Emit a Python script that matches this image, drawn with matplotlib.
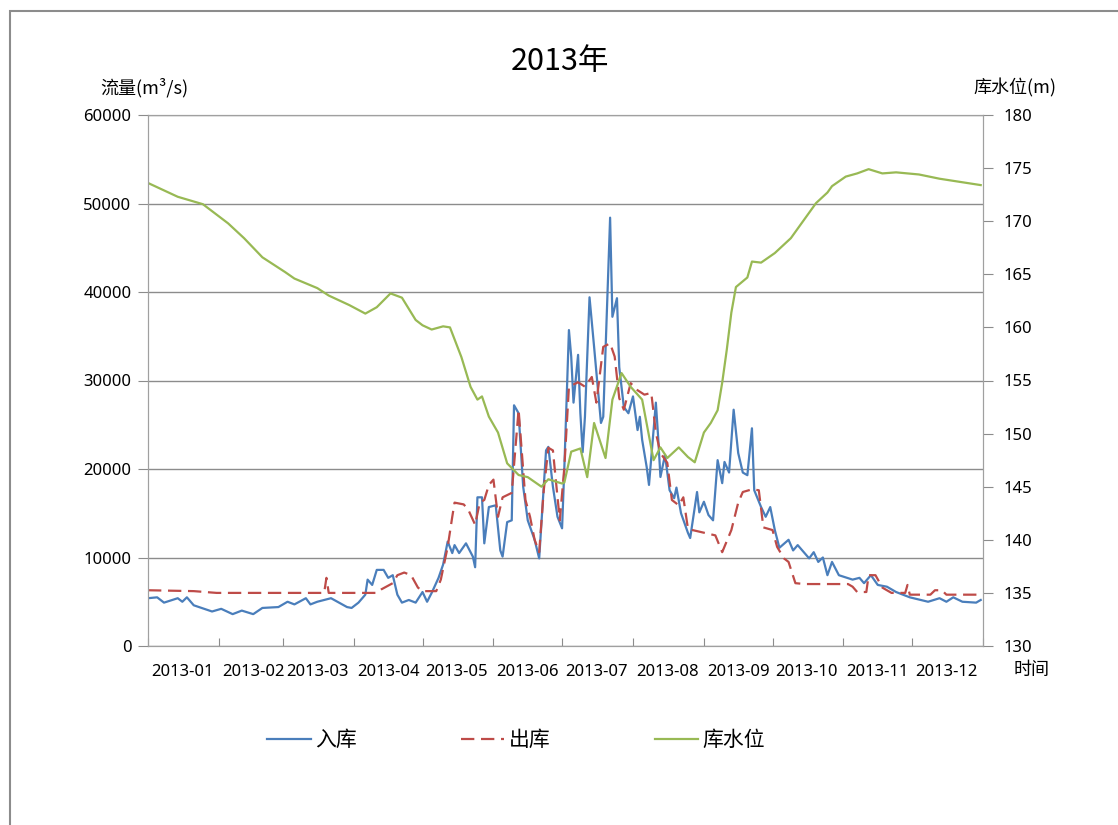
import pandas as pd
import matplotlib
matplotlib.use("Agg")
import matplotlib.pyplot as plt
import matplotlib.dates as mdates
from matplotlib.patches import Rectangle

plt.rcParams['font.family'] = ['Noto Sans CJK SC', 'DejaVu Sans']

# day of year (0 = Jan 1) and values
inflow_day = [0, 4, 7, 13, 15, 17, 20, 28, 32, 37, 41, 46, 50, 57, 61, 64, 69, 71, 74, 80,
              87, 89, 92, 95, 96, 98, 100, 103, 105, 107, 109, 111, 114, 117, 120, 122, 124,
              127, 129, 131, 133, 134, 136, 139, 142, 143, 144, 146, 147, 149, 152, 154, 155,
              157, 159, 160, 162, 164, 166, 169, 171, 174, 175, 177, 179, 181, 182, 184, 185,
              186, 188, 189, 190, 191, 193, 195, 198, 199, 202, 203, 205, 206, 208, 210, 212,
              214, 215, 216, 218, 219, 222, 223, 224, 226, 228, 230, 231, 233, 236, 237, 240,
              241, 243, 245, 247, 249, 251, 252, 254, 256, 258, 260, 262, 264, 265, 268, 270,
              272, 274, 276, 280, 282, 284, 289, 291, 293, 295, 297, 299, 302, 308, 311, 313,
              316, 319, 323, 327, 333, 341, 346, 349, 352, 356, 362, 364]
inflow = [5400, 5500, 4900, 5400, 5000, 5500, 4600, 3900, 4200, 3600, 4000, 3600, 4300, 4400,
          5000, 4700, 5400, 4700, 5000, 5400, 4400, 4300, 4900, 5800, 7500, 6900, 8600, 8600,
          7700, 8000, 5800, 4900, 5200, 4900, 6100, 5000, 6000, 7700, 9200, 11800, 10500, 11400,
          10500, 11600, 10100, 8900, 16800, 16800, 11600, 15700, 15900, 10800, 10100, 14000,
          14200, 27200, 26300, 18000, 14200, 12000, 9900, 22100, 22500, 18000, 14600, 13300,
          20200, 35700, 32700, 27500, 32900, 26300, 21900, 25900, 39400, 33800, 25200, 25900,
          48400, 37200, 39300, 31500, 27000, 26300, 28200, 24400, 25900, 23300, 20200, 18200,
          27500, 23600, 19100, 21600, 17600, 16700, 17900, 15000, 12800, 12200, 17400, 15100,
          16300, 14800, 14200, 21000, 18400, 20800, 19600, 26700, 21800, 19600, 19300, 24600,
          17600, 15700, 14600, 15700, 13100, 11100, 12000, 10800, 11400, 9900, 10600, 9500,
          10000, 8000, 9500, 8000, 7500, 7700, 7100, 8000, 6900, 6700, 6100, 5500, 5000, 5400,
          5000, 5500, 5000, 4900, 5200]

outflow_day = [0, 20, 30, 60, 77, 78, 79, 100, 102, 107, 109, 112, 115, 118, 120, 126, 128,
               131, 133, 134, 138, 140, 143, 145, 147, 149, 151, 153, 155, 159, 162, 165, 167,
               169, 171, 173, 175, 177, 180, 182, 184, 188, 191, 194, 196, 199, 202, 204, 206,
               208, 211, 214, 217, 220, 222, 224, 227, 229, 232, 234, 236, 238, 243, 248, 251,
               255, 258, 260, 264, 267, 269, 273, 275, 278, 280, 283, 287, 306, 308, 310, 314,
               315, 318, 321, 325, 331, 332, 333, 342, 344, 347, 349, 364]
outflow = [6300, 6200, 6000, 6000, 6000, 7700, 6000, 6000, 6400, 7100, 8000, 8300, 8000, 6600,
           6200, 6200, 7500, 11200, 14600, 16200, 16000, 15400, 13700, 16200, 16500, 18200,
           18800, 14600, 16800, 17300, 26700, 16500, 14600, 12000, 10600, 17600, 22400, 22100,
           14200, 20200, 29300, 29800, 29300, 30400, 27500, 33800, 34200, 32700, 28000, 26700,
           29700, 28900, 28400, 28600, 24100, 21800, 20700, 16500, 15900, 16800, 13300, 13100,
           12800, 12500, 10600, 13100, 16200, 17400, 17700, 17600, 13400, 13100, 11200, 9900,
           9500, 7100, 7000, 7000, 6700, 6100, 6100, 8000, 8000, 6600, 6000, 6000, 6900, 5800,
           5800, 6300, 6300, 5800, 5800]

level_day = [0, 13, 24, 35, 42, 50, 60, 64, 74, 79, 88, 95, 100, 106, 111, 117, 120, 124, 129,
             132, 137, 141, 144, 146, 149, 153, 157, 162, 166, 172, 175, 181, 182, 185, 189,
             192, 195, 200, 203, 207, 211, 216, 221, 224, 227, 232, 236, 239, 243, 246, 249,
             251, 253, 255, 257, 262, 264, 268, 274, 281, 286, 292, 297, 299, 305, 310, 315,
             321, 327, 337, 346, 355, 364]
level = [173.6, 172.3, 171.6, 169.8, 168.4, 166.6, 165.2, 164.6, 163.7, 163.0, 162.1, 161.3,
         161.9, 163.2, 162.8, 160.7, 160.2, 159.8, 160.1, 160.0, 157.2, 154.4, 153.2, 153.5,
         151.6, 150.1, 147.2, 146.1, 145.9, 145.0, 145.7, 145.3, 145.4, 148.3, 148.6, 145.9,
         151.0, 147.7, 153.2, 155.7, 154.4, 153.2, 147.5, 148.7, 147.7, 148.7, 147.8, 147.3,
         150.1, 151.0, 152.2, 154.8, 157.9, 161.4, 163.8, 164.7, 166.2, 166.1, 167.0, 168.4,
         169.9, 171.7, 172.7, 173.3, 174.2, 174.5, 174.9, 174.5, 174.6, 174.4, 174.0, 173.7,
         173.4]

start = pd.Timestamp("2013-01-01")


def to_dates(days):
    return start + pd.to_timedelta(days, unit="D")


W, H = 1118, 825
fig = plt.figure(figsize=(W / 100, H / 100), dpi=100)

# chart border (only left and top edges visible in the original)
fig.patches.append(Rectangle((10 / W, -0.1), 1.2, 1.1 - 11 / H, transform=fig.transFigure,
                             fill=False, ec='#8c8c8c', lw=1.5))

ax = fig.add_axes([148 / W, 1 - 646 / H, 835 / W, 531 / H])
ax2 = ax.twinx()

blue = '#4a7ebb'
red = '#be4b48'
green = '#98b954'

l1, = ax.plot(to_dates(inflow_day), inflow, color=blue, lw=1.6, label='入库')
l2, = ax.plot(to_dates(outflow_day), outflow, color=red, lw=1.6, dashes=(6, 3), label='出库')
l3, = ax2.plot(to_dates(level_day), level, color=green, lw=1.6, label='库水位')

ax.set_ylim(0, 60000)
ax.set_yticks(range(0, 60001, 10000))
ax2.set_ylim(130, 180)
ax2.set_yticks(range(130, 181, 5))
ax.set_xlim(start, pd.Timestamp("2014-01-01"))

ax.grid(axis='y', color='#8c8c8c', lw=1)
ax.set_axisbelow(True)

ax.xaxis.set_major_locator(mdates.MonthLocator())
ax.xaxis.set_major_formatter(plt.NullFormatter())
ax.xaxis.set_minor_locator(mdates.MonthLocator(bymonthday=16))
ax.xaxis.set_minor_formatter(mdates.DateFormatter('%Y-%m'))
ax.tick_params(axis='x', which='major', direction='in', length=6, color='#8c8c8c')
ax.tick_params(axis='x', which='minor', length=0, pad=13)
ax.tick_params(axis='y', direction='out', length=7, color='#8c8c8c', pad=5)
ax2.tick_params(axis='y', direction='out', length=7, color='#8c8c8c', pad=8)

for a in (ax, ax2):
    for s in a.spines.values():
        s.set_color('#a0a0a0')
    for lab in a.get_yticklabels() + a.get_xticklabels(which='both'):
        lab.set_family(['Noto Sans', 'DejaVu Sans'])
        lab.set_fontsize(12)

fig.text(560 / W, 1 - 62 / H, '2013年', ha='center', va='center', fontsize=22)
fig.text(100 / W, 1 - 88 / H, '流量(m³/s)', ha='left', va='center', fontsize=13)
fig.text(973 / W, 1 - 88 / H, '库水位(m)', ha='left', va='center', fontsize=13)
fig.text(1014 / W, 1 - 670 / H, '时间', ha='left', va='center', fontsize=13)

fig.legend(handles=[l1, l2, l3], loc='center', bbox_to_anchor=(516 / W, 1 - 740 / H),
           ncol=3, frameon=False, fontsize=15, handlelength=2.1, handletextpad=0.2,
           columnspacing=5.0)

fig.savefig('out.png', dpi=100)
